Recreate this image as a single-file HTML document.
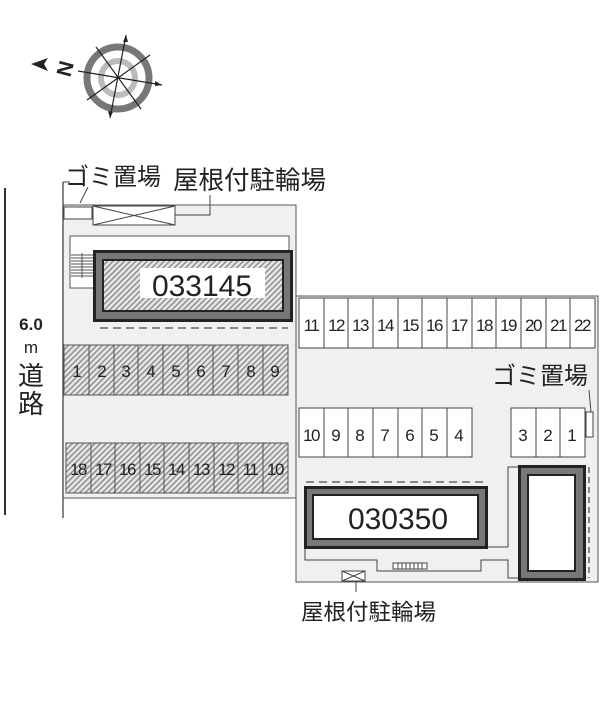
<!DOCTYPE html>
<html><head><meta charset="utf-8"><style>
html,body{margin:0;padding:0;background:#fff;}
svg{display:block;}
text{font-family:"Liberation Sans","Noto Sans CJK JP",sans-serif;fill:#222;}
</style></head><body>
<svg width="613" height="720" viewBox="0 0 613 720" xmlns="http://www.w3.org/2000/svg">
<defs>
<pattern id="h" width="4" height="4" patternUnits="userSpaceOnUse" patternTransform="rotate(45)">
<rect width="4" height="4" fill="#e6e6e6"/><rect width="1.4" height="4" fill="#8a8a8a"/>
</pattern>
</defs>
<!-- compass -->
<g transform="translate(118,78)">
<circle r="31" fill="none" stroke="#777" stroke-width="7"/>
<circle r="17" fill="none" stroke="#bbb" stroke-width="6"/>
<path d="M-22,-31 L23,31 M-31,22 L32,-23 M8,-43 L-8,40 M-40,-7 L44,7" stroke="#222" stroke-width="1.2"/>
<path d="M8,-43 l-3,7 l5,0z M-8,40 l-2,-7 l5,1z M44,7 l-7,-4 l0,5z" fill="#222"/>
</g>
<path d="M31,64 L48,58 L44,64 L48,71z" fill="#222"/>
<text x="58" y="78" font-size="21" font-weight="bold" transform="rotate(-75 64 70)">N</text>
<!-- road -->
<line x1="5" y1="188" x2="5" y2="515" stroke="#333" stroke-width="2"/>
<text x="31" y="330" font-size="17" text-anchor="middle" font-weight="bold">6.0</text>
<text x="31" y="353" font-size="17" text-anchor="middle">m</text>
<text x="31" y="385" font-size="26" text-anchor="middle">道</text>
<text x="31" y="413" font-size="26" text-anchor="middle">路</text>
<!-- left site -->
<rect x="63" y="205" width="233" height="293" fill="#f0f0f0" stroke="#555" stroke-width="1"/>
<line x1="63" y1="182" x2="63" y2="518" stroke="#444" stroke-width="1.3"/>
<rect x="64" y="207" width="28" height="12" fill="#fff" stroke="#444"/>
<rect x="93" y="206" width="82" height="19" fill="#fff" stroke="#444"/>
<path d="M93,206 L175,225 M93,225 L175,206" stroke="#444"/>
<path d="M63,182 L70,182 M80,203 L88,187 M175,215 L210,215 L210,195" stroke="#444" fill="none"/>
<text x="65" y="185" font-size="24">ゴミ置場</text>
<text x="173" y="189" font-size="25.5">屋根付駐輪場</text>
<rect x="70" y="236" width="219" height="52" fill="#fff" stroke="#555"/>
<rect x="71" y="253" width="22" height="25" fill="#fff"/>
<g stroke="#555" stroke-width="1">
<line x1="71" y1="255" x2="93" y2="255"/><line x1="71" y1="258" x2="93" y2="258"/><line x1="71" y1="261" x2="93" y2="261"/><line x1="71" y1="264" x2="93" y2="264"/><line x1="71" y1="267" x2="93" y2="267"/><line x1="71" y1="270" x2="93" y2="270"/><line x1="71" y1="273" x2="93" y2="273"/><line x1="71" y1="276" x2="93" y2="276"/><line x1="82" y1="253" x2="82" y2="278"/>
</g>
<rect x="94.5" y="251.5" width="197" height="69" fill="#777" stroke="#222" stroke-width="3"/>
<rect x="103" y="260" width="180" height="51" fill="url(#h)" stroke="#222" stroke-width="2"/>
<rect x="140" y="268" width="125" height="30" fill="#fff"/>
<text x="202" y="296" font-size="30" text-anchor="middle">033145</text>
<line x1="100" y1="328" x2="288" y2="328" stroke="#888" stroke-width="2" stroke-dasharray="8,5"/>
<g font-size="17" text-anchor="middle">
<rect x="64" y="345" width="224" height="50" fill="url(#h)" stroke="#555"/>
<path d="M89,345v50M114,345v50M138,345v50M163,345v50M188,345v50M213,345v50M238,345v50M263,345v50" stroke="#555"/>
<text x="77" y="377">1</text><text x="102" y="377">2</text><text x="126" y="377">3</text><text x="151" y="377">4</text><text x="176" y="377">5</text><text x="201" y="377">6</text><text x="226" y="377">7</text><text x="251" y="377">8</text><text x="275" y="377">9</text>
<rect x="66" y="443" width="222" height="50" fill="url(#h)" stroke="#555"/>
<path d="M91,443v50M115,443v50M140,443v50M164,443v50M189,443v50M214,443v50M238,443v50M263,443v50" stroke="#555"/>
<text x="78" y="475" letter-spacing="-1.5">18</text><text x="103" y="475" letter-spacing="-1.5">17</text><text x="127" y="475" letter-spacing="-1.5">16</text><text x="152" y="475" letter-spacing="-1.5">15</text><text x="176" y="475" letter-spacing="-1.5">14</text><text x="201" y="475" letter-spacing="-1.5">13</text><text x="226" y="475" letter-spacing="-1.5">12</text><text x="250" y="475" letter-spacing="-1.5">11</text><text x="275" y="475" letter-spacing="-1.5">10</text>
</g>
<!-- right site -->
<rect x="296" y="296" width="302" height="286" fill="#f0f0f0" stroke="#555"/>
<g font-size="17" text-anchor="middle">
<rect x="299" y="298" width="296" height="50" fill="#fff" stroke="#444"/>
<path d="M324,298v50M348,298v50M373,298v50M398,298v50M422,298v50M447,298v50M472,298v50M496,298v50M521,298v50M546,298v50M570,298v50" stroke="#444"/>
<text x="311" y="331" letter-spacing="-1.5">11</text><text x="336" y="331" letter-spacing="-1.5">12</text><text x="360" y="331" letter-spacing="-1.5">13</text><text x="385" y="331" letter-spacing="-1.5">14</text><text x="410" y="331" letter-spacing="-1.5">15</text><text x="434" y="331" letter-spacing="-1.5">16</text><text x="459" y="331" letter-spacing="-1.5">17</text><text x="484" y="331" letter-spacing="-1.5">18</text><text x="508" y="331" letter-spacing="-1.5">19</text><text x="533" y="331" letter-spacing="-1.5">20</text><text x="558" y="331" letter-spacing="-1.5">21</text><text x="582" y="331" letter-spacing="-1.5">22</text>
<rect x="299" y="408" width="173" height="49" fill="#fff" stroke="#444"/>
<path d="M324,408v49M348,408v49M373,408v49M398,408v49M422,408v49M447,408v49" stroke="#444"/>
<text x="311" y="441" letter-spacing="-1.5">10</text><text x="336" y="441">9</text><text x="360" y="441">8</text><text x="385" y="441">7</text><text x="410" y="441">6</text><text x="434" y="441">5</text><text x="459" y="441">4</text>
<rect x="511" y="408" width="74" height="49" fill="#fff" stroke="#444"/>
<path d="M536,408v49M560,408v49" stroke="#444"/>
<text x="523" y="441">3</text><text x="548" y="441">2</text><text x="572" y="441">1</text>
</g>
<rect x="586" y="412" width="7" height="25" fill="#fff" stroke="#444"/>
<line x1="589" y1="390" x2="591" y2="412" stroke="#444"/>
<text x="492" y="384" font-size="24">ゴミ置場</text>
<line x1="306" y1="482" x2="486" y2="482" stroke="#888" stroke-width="2" stroke-dasharray="8,5"/>
<path d="M305,548 V560 H377 V571 H481 V560 H508 V578 H518 M486,547 H508 V467 H518" stroke="#444" fill="none"/>
<rect x="393" y="563" width="34" height="6" fill="#fff" stroke="#444"/>
<path d="M398,563v6M402,563v6M406,563v6M410,563v6M414,563v6M418,563v6M422,563v6" stroke="#444"/>
<rect x="305.5" y="487.5" width="181" height="60" fill="#777" stroke="#222" stroke-width="3"/>
<rect x="313" y="495" width="165" height="44" fill="#fff" stroke="#222" stroke-width="2"/>
<text x="398" y="529" font-size="30" text-anchor="middle">030350</text>
<rect x="519.5" y="466.5" width="65" height="113" fill="#777" stroke="#222" stroke-width="3"/>
<rect x="528" y="475" width="47" height="96" fill="#fff" stroke="#222" stroke-width="2"/>
<line x1="589" y1="467" x2="589" y2="578" stroke="#666" stroke-width="1.5" stroke-dasharray="6,4"/>
<rect x="342" y="571" width="23" height="10" fill="#fff" stroke="#444"/>
<path d="M342,571 L365,581 M342,581 L365,571 M356,581 V592" stroke="#444"/>
<text x="301" y="620" font-size="22.5">屋根付駐輪場</text>
</svg>
</body></html>
